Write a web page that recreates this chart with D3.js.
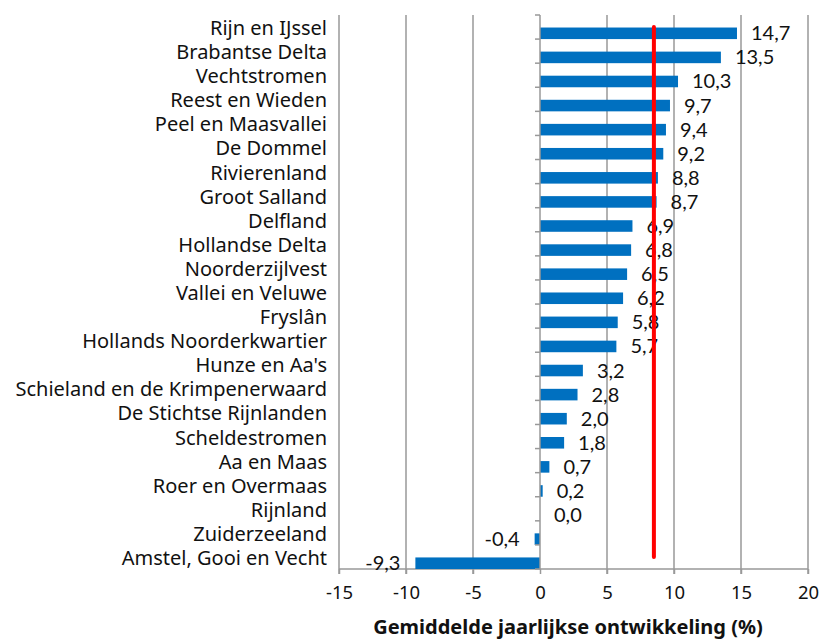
<!DOCTYPE html>
<html>
<head>
<meta charset="utf-8">
<script src="https://cdn.jsdelivr.net/npm/d3@7"></script>
<style>
  body { margin: 0; background: #fff; }
  .cat { font-family: "Noto Sans", sans-serif; font-size: 20px; fill: #111; }
  .val { font-family: Lato, sans-serif; font-size: 20px; fill: #111; }
  .tick text { font-family: "Noto Sans", sans-serif; font-size: 18.5px; fill: #111; }
</style>
</head>
<body>
<div class="canvas"></div>
<script>
  // waterschappen (van boven naar beneden)
  var names = ["Rijn en IJssel", "Brabantse Delta", "Vechtstromen", "Reest en Wieden",
    "Peel en Maasvallei", "De Dommel", "Rivierenland", "Groot Salland", "Delfland",
    "Hollandse Delta", "Noorderzijlvest", "Vallei en Veluwe", "Fryslân",
    "Hollands Noorderkwartier", "Hunze en Aa's", "Schieland en de Krimpenerwaard",
    "De Stichtse Rijnlanden", "Scheldestromen", "Aa en Maas", "Roer en Overmaas",
    "Rijnland", "Zuiderzeeland", "Amstel, Gooi en Vecht"];
  // gemiddelde jaarlijkse ontwikkeling (%)
  var values = [14.7, 13.5, 10.3, 9.7, 9.4, 9.2, 8.8, 8.7, 6.9, 6.8, 6.5, 6.2, 5.8,
    5.7, 3.2, 2.8, 2.0, 1.8, 0.7, 0.2, 0.0, -0.4, -9.3];
  // rode lijn (landelijk gemiddelde)
  var average = 8.5;
  var xTicks = [-15, -10, -5, 0, 5, 10, 15, 20];
  var xTitle = "Gemiddelde jaarlijkse ontwikkeling (%)";

  var width = 822, height = 639;
  // let op: "top" is een gereserveerde window-naam
  var pLeft = 339, pRight = 808, pTop = 15, pBottom = 569;

  var svg = d3.select(".canvas").append("svg")
      .attr("width", width)
      .attr("height", height);

  var x = d3.scaleLinear().domain([-15, 20]).range([pLeft, pRight]);
  var y = d3.scaleBand().domain(names).range([pTop, pBottom]);
  var bw = y.bandwidth();

  // verticale rasterlijnen
  svg.append("g").selectAll("line")
    .data(xTicks.filter(function(d) { return d != 0; }))
    .enter().append("line")
      .attr("x1", function(d) { return x(d); })
      .attr("x2", function(d) { return x(d); })
      .attr("y1", pTop)
      .attr("y2", pBottom + 5)
      .attr("stroke", "#999")
      .attr("stroke-width", 1.5);

  // x-as
  var axisx = d3.axisBottom(x).tickValues(xTicks).tickSize(5).tickPadding(12)
      .tickFormat(function(d) { return String(d); });
  var gx = svg.append("g")
      .attr("transform", "translate(0," + pBottom + ")")
      .call(axisx);
  gx.select(".domain").attr("stroke", "#999").attr("stroke-width", 1.5)
      .attr("d", "M" + pLeft + ",0H" + pRight);
  gx.selectAll(".tick line").attr("stroke", "#999").attr("stroke-width", 1.5);

  // balken
  svg.append("g").selectAll("rect")
    .data(values)
    .enter().append("rect")
      .attr("x", function(d) { return x(Math.min(0, d)); })
      .attr("y", function(d, i) { return y(names[i]) + bw * 0.52; })
      .attr("width", function(d) { return Math.abs(x(d) - x(0)); })
      .attr("height", bw * 0.48)
      .attr("fill", "#0070C0");

  // y-as op 0 met streepjes tussen de categorieen
  svg.append("line")
    .attr("x1", x(0)).attr("x2", x(0))
    .attr("y1", pTop).attr("y2", pBottom)
    .attr("stroke", "#999").attr("stroke-width", 1.5);
  svg.append("g").selectAll("line")
    .data(d3.range(names.length + 1))
    .enter().append("line")
      .attr("x1", x(0) - 5).attr("x2", x(0))
      .attr("y1", function(i) { return pTop + i * bw; })
      .attr("y2", function(i) { return pTop + i * bw; })
      .attr("stroke", "#999").attr("stroke-width", 1.5);

  // categorienamen
  svg.append("g").selectAll("text")
    .data(names)
    .enter().append("text")
      .attr("class", "cat")
      .attr("x", pLeft - 12)
      .attr("y", function(d) { return y(d) + bw / 2 + 1; })
      .attr("dy", "0.35em")
      .attr("text-anchor", "end")
      .text(function(d) { return d; });

  // waardelabels
  svg.append("g").selectAll("text")
    .data(values)
    .enter().append("text")
      .attr("class", "val")
      .attr("x", function(d) { return d < 0 ? x(d) - 15 : x(d) + 14; })
      .attr("y", function(d, i) { return y(names[i]) + bw * 0.76; })
      .attr("dy", "0.35em")
      .attr("text-anchor", function(d) { return d < 0 ? "end" : "start"; })
      .text(function(d) { return d3.format(".1f")(d).replace(".", ",").replace("−", "-"); });

  // rode lijn
  svg.append("line")
    .attr("x1", x(average)).attr("x2", x(average))
    .attr("y1", y(names[0]) + bw / 2)
    .attr("y2", y(names[names.length - 1]) + bw / 2)
    .attr("stroke", "#FF0000")
    .attr("stroke-width", 4)
    .attr("stroke-linecap", "round");

  // astitel
  svg.append("text")
    .text(xTitle)
    .attr("x", 568)
    .attr("y", 634)
    .attr("text-anchor", "middle")
    .attr("style", "font-family:'Noto Sans',sans-serif;font-size:20px;font-weight:bold;fill:#111");
</script>
</body>
</html>
